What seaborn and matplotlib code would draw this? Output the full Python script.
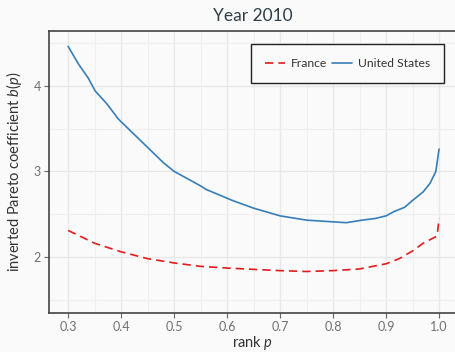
import numpy as np
import pandas as pd
import seaborn as sns
import matplotlib
matplotlib.use("Agg")
import matplotlib.pyplot as plt

# inverted Pareto coefficients b(p) by rank p, year 2010
us_p = [0.30, 0.32, 0.338, 0.351, 0.373, 0.395, 0.45, 0.48, 0.50, 0.55, 0.56,
        0.61, 0.65, 0.70, 0.75, 0.80, 0.825, 0.855, 0.88, 0.90, 0.915,
        0.935, 0.95, 0.97, 0.983, 0.994, 1.00]
us_b = [4.46, 4.25, 4.09, 3.94, 3.79, 3.61, 3.28, 3.10, 3.00, 2.83, 2.79,
        2.66, 2.57, 2.48, 2.43, 2.41, 2.40, 2.43, 2.45, 2.48, 2.53,
        2.58, 2.66, 2.76, 2.86, 3.00, 3.26]

fr_p = [0.30, 0.35, 0.40, 0.45, 0.50, 0.55, 0.60, 0.65, 0.70, 0.75, 0.80,
        0.85, 0.875, 0.90, 0.925, 0.95, 0.97, 0.995, 0.997, 1.00]
fr_b = [2.31, 2.16, 2.06, 1.98, 1.93, 1.89, 1.87, 1.855, 1.84, 1.83, 1.84,
        1.86, 1.89, 1.92, 1.98, 2.07, 2.16, 2.24, 2.28, 2.45]

countries = ["France", "United States"]
x_ticks = [0.3, 0.4, 0.5, 0.6, 0.7, 0.8, 0.9, 1.0]
y_ticks = [2, 3, 4]

df = pd.concat([
    pd.DataFrame({"p": fr_p, "b": fr_b, "country": "France"}),
    pd.DataFrame({"p": us_p, "b": us_b, "country": "United States"}),
])

bg = "#fafafa"
sns.set_theme(style="white")
plt.rcParams["font.family"] = ["Lato", "DejaVu Sans"]
plt.rcParams["mathtext.fontset"] = "custom"
plt.rcParams["mathtext.rm"] = "Lato"
plt.rcParams["mathtext.it"] = "Lato:italic"

fig = plt.figure(figsize=(4.56, 3.52), dpi=100, facecolor=bg)
ax = fig.add_axes([0.1075, 0.112, 0.8925, 0.8])
ax.set_facecolor(bg)

palette = {"France": "#e41a1c", "United States": "#377eb8"}
dashes = {"France": (5, 3), "United States": ""}
sns.lineplot(data=df, x="p", y="b", hue="country", style="country",
             hue_order=countries, style_order=countries,
             palette=palette, dashes=dashes, linewidth=1.2,
             sort=False, estimator=None, ax=ax)

ax.set_xlim(0.264, 1.032)
ax.set_ylim(1.35, 4.64)
ax.set_xticks(x_ticks)
ax.set_xticklabels([f"{v:.1f}" for v in x_ticks])
ax.set_yticks(y_ticks)
ax.set_xticks(np.arange(0.35, 1.0, 0.1), minor=True)
ax.set_yticks([1.5, 2.5, 3.5, 4.5], minor=True)
ax.grid(True, which="major", color="#e8e8e8", linewidth=1.0)
ax.grid(True, which="minor", color="#efefef", linewidth=0.8)
ax.set_axisbelow(True)

ax.tick_params(axis="both", which="major", direction="out", length=3.5,
               width=0.8, color="#666666", labelsize=9, labelcolor="#707070",
               pad=2.5, left=True, bottom=True)
ax.tick_params(axis="both", which="minor", length=0)

for side, sp in ax.spines.items():
    sp.set_color("#444444")
    sp.set_linewidth(1.2)

ax.set_xlabel("rank $p$", fontsize=10.5, color="#333333", labelpad=1)
ax.set_ylabel("inverted Pareto coefficient $b(p)$", fontsize=10.5,
              color="#333333", labelpad=7)
ax.set_title("Year 2010", fontsize=12.5, color="#2f3e46", pad=7)

leg = ax.legend(title=None, ncol=2, loc="upper right",
                bbox_to_anchor=(0.97, 0.952), frameon=True, fontsize=8.7,
                handlelength=1.6, handletextpad=0.5, columnspacing=0.45,
                borderpad=1.15, borderaxespad=0, fancybox=False)
leg.get_frame().set_edgecolor("#222222")
leg.get_frame().set_linewidth(1.0)
leg.get_frame().set_facecolor(bg)
leg.get_frame().set_alpha(1)
for t in leg.get_texts():
    t.set_color("#333333")

fig.savefig("out.png", dpi=100, facecolor=bg)
